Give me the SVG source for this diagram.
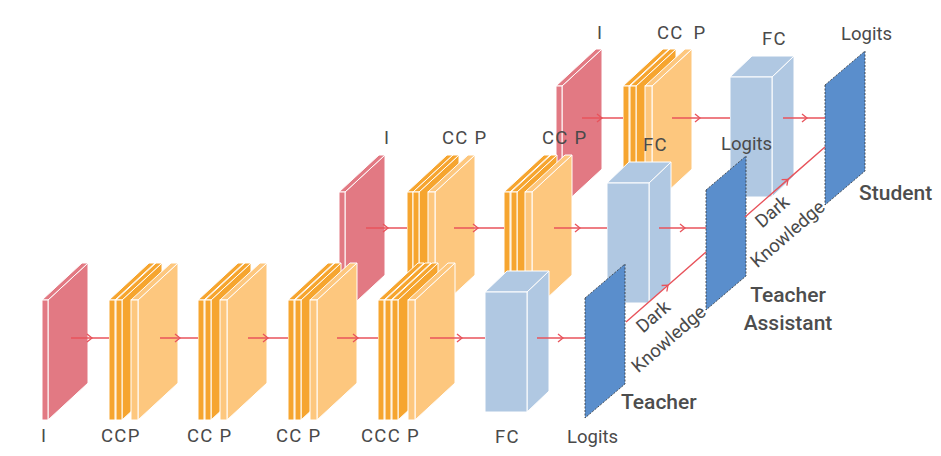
<svg xmlns="http://www.w3.org/2000/svg" xmlns:xlink="http://www.w3.org/1999/xlink" width="941" height="456" viewBox="0 0 941 456">
<style>
.pk{fill:#E27983;stroke:#fff;stroke-width:1}
.cv{fill:#F6A52F;stroke:#fff;stroke-width:1}
.pl{fill:#FDC77E;stroke:#fff;stroke-width:1}
.fc{fill:#B0C8E2;stroke:#fff;stroke-width:1}
.lg{fill:#5A8ECC;stroke:#333;stroke-width:0.8;stroke-dasharray:2 1.5}
.ar{stroke:#E8535B;stroke-width:1.4;fill:none;marker-mid:url(#chev)}
.t{font-family:Roboto,'Liberation Sans',sans-serif;font-size:18.5px;fill:#4a4a4a;letter-spacing:1.3px}
.dk{font-family:Roboto,'Liberation Sans',sans-serif;font-size:18.5px;fill:#4a4a4a;text-anchor:middle}
.big{font-family:Roboto,'Liberation Sans',sans-serif;font-size:21px;font-weight:500;fill:#4d4d4d}
</style>
<defs>
<marker id="chev" markerUnits="userSpaceOnUse" markerWidth="8" markerHeight="10" refX="5" refY="4" orient="auto" overflow="visible">
<path d="M0,0 L5,4 L0,8" fill="none" stroke="#E8535B" stroke-width="1.3"/>
</marker>
<g id="pink" class="pk"><polygon points="6,0 46,-37 46,83 6,120"/><polygon points="0,0 40,-37 46,-37 6,0"/><rect x="0" y="0" width="6" height="120"/></g>
<g id="conv" class="cv"><polygon points="6,0 46,-37 46,83 6,120"/><polygon points="0,0 40,-37 46,-37 6,0"/><rect x="0" y="0" width="6" height="120"/></g>
<g id="pool" class="pl"><polygon points="7,0 47,-37 47,83 7,120"/><polygon points="0,0 40,-37 47,-37 7,0"/><rect x="0" y="0" width="7" height="120"/></g>
<g id="fcbox" class="fc"><polygon points="42,0 64,-21 64,99 42,120"/><polygon points="0,0 22,-21 64,-21 42,0"/><rect x="0" y="0" width="42" height="120"/></g>
<polygon id="logit" class="lg" points="0,0 40,-34 40,86 0,120"/>
</defs>

<!-- Student row -->
<g id="s-input"><use href="#pink" x="556" y="86"/><text class="t" x="597" y="39">I</text></g>
<g id="s-ccp1"><use href="#conv" x="623" y="86"/><use href="#conv" x="630" y="86"/><use href="#pool" x="645" y="86"/><text class="t" x="657" y="39">CC <tspan dx="4">P</tspan></text></g>
<g id="s-fc"><use href="#fcbox" x="730" y="77"/><text class="t" x="762" y="45">FC</text></g>
<g id="s-logits"><use href="#logit" x="825" y="85"/><text class="t" x="841" y="40" style="letter-spacing:0">Logits</text></g>
<text id="s-label" class="big" x="859" y="200">Student</text>

<!-- Teacher Assistant row -->
<g id="ta-input"><use href="#pink" x="339" y="192"/><text class="t" x="384" y="144">I</text></g>
<g id="ta-ccp1"><use href="#conv" x="407" y="192"/><use href="#conv" x="413" y="192"/><use href="#pool" x="428" y="192"/><text class="t" x="442" y="144">CC P</text></g>
<g id="ta-ccp2"><use href="#conv" x="504" y="192"/><use href="#conv" x="511" y="192"/><use href="#pool" x="525" y="192"/><text class="t" x="542" y="144">CC P</text></g>
<g id="ta-fc"><use href="#fcbox" x="607" y="183"/><text class="t" x="643" y="151">FC</text></g>
<g id="ta-logits"><use href="#logit" x="706" y="190"/><text class="t" x="721" y="150" style="letter-spacing:0">Logits</text></g>
<text id="ta-label" class="big" text-anchor="middle"><tspan x="788" y="302">Teacher</tspan><tspan x="788" y="330">Assistant</tspan></text>

<!-- Teacher row -->
<g id="t-input"><use href="#pink" x="42" y="300"/><text class="t" x="41" y="442">I</text></g>
<g id="t-ccp1"><use href="#conv" x="109" y="300"/><use href="#conv" x="116" y="300"/><use href="#pool" x="131" y="300"/><text class="t" x="101" y="442">CCP</text></g>
<g id="t-ccp2"><use href="#conv" x="198" y="300"/><use href="#conv" x="205" y="300"/><use href="#pool" x="220" y="300"/><text class="t" x="187" y="442">CC P</text></g>
<g id="t-ccp3"><use href="#conv" x="288" y="300"/><use href="#conv" x="295" y="300"/><use href="#pool" x="310" y="300"/><text class="t" x="276" y="442">CC P</text></g>
<g id="t-cccp"><use href="#conv" x="378" y="300"/><use href="#conv" x="385" y="300"/><use href="#conv" x="392" y="300"/><use href="#pool" x="408" y="300"/><text class="t" x="361" y="442">CCC P</text></g>
<g id="t-fc"><use href="#fcbox" x="485" y="292"/><text class="t" x="495" y="443">FC</text></g>
<g id="t-logits"><use href="#logit" x="585" y="298"/><text class="t" x="567" y="443" style="letter-spacing:0">Logits</text></g>
<text id="t-label" class="big" x="621" y="409">Teacher</text>

<!-- Connectors -->
<g id="connectors">
<path class="ar" d="M71,338 L92,338 L109,338"/>
<path class="ar" d="M160,338 L180,338 L198,338"/>
<path class="ar" d="M248,338 L268,338 L288,338"/>
<path class="ar" d="M337,338 L358,338 L378,338"/>
<path class="ar" d="M430,338 L462,338 L485,338"/>
<path class="ar" d="M537,338 L563,338 L585,338"/>
<path class="ar" d="M366,228 L388,228 L407,228"/>
<path class="ar" d="M454,228 L478,228 L504,228"/>
<path class="ar" d="M554,228 L580,228 L607,228"/>
<path class="ar" d="M659,228 L685,228 L706,228"/>
<path class="ar" d="M582,118 L602,118 L623,118"/>
<path class="ar" d="M672,118 L700,118 L730,118"/>
<path class="ar" d="M783,118 L807,118 L825,118"/>
<path class="ar" d="M626,322 L668,285.2 L706,252"/>
<path class="ar" d="M745,217 L788,179.4 L825,147"/>
<g transform="translate(626,322) rotate(-41)"><text class="dk" x="24" y="20">Dark</text><text class="dk" x="21" y="47">Knowledge</text></g>
<g transform="translate(745,217) rotate(-41)"><text class="dk" x="24" y="20">Dark</text><text class="dk" x="21" y="47">Knowledge</text></g>
</g>
</svg>
